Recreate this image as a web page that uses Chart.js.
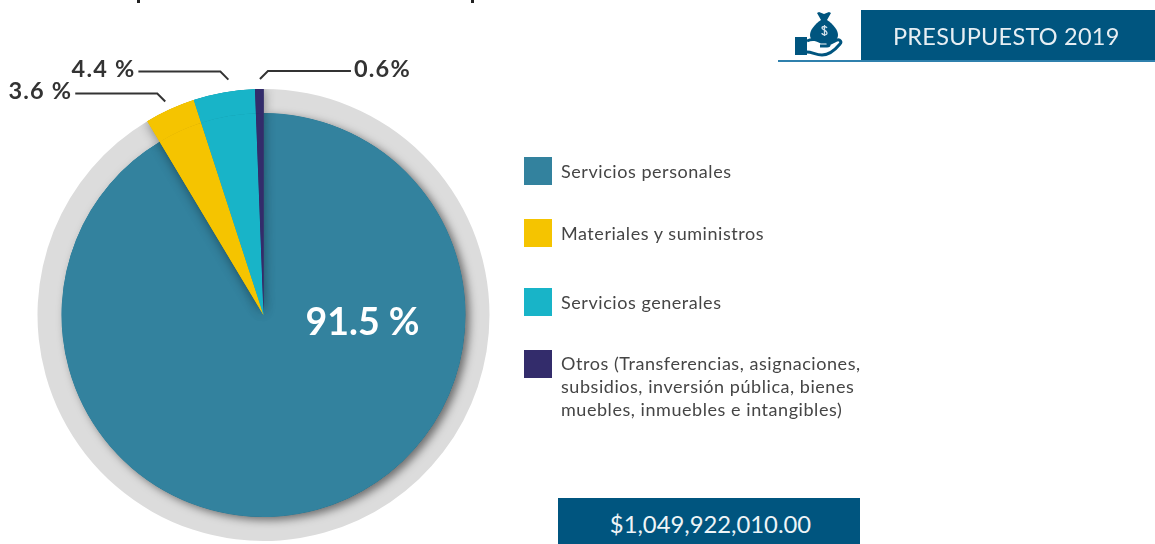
<!DOCTYPE html>
<html lang="es"><head><meta charset="utf-8">
<style>
html,body{margin:0;padding:0;background:#fff;overflow:hidden}
#stage{position:relative;width:1155px;height:544px;overflow:hidden;font-family:Lato,sans-serif;filter:blur(.55px)}
#c{position:absolute;left:0;top:0}
.abs{position:absolute}
.head{left:861px;top:10px;width:294px;height:50px;background:#00557f}
.headline{left:778px;top:60px;width:377px;height:2px;background:#2f80ad}
.htxt{left:893px;top:21px;color:#e6eef3;font-size:23.5px;letter-spacing:.25px;line-height:30px;white-space:nowrap}
.total{left:561px;top:498px;width:299px;height:46px;padding-left:0;color:#eef4f7;font-size:23.8px;line-height:53px;text-align:center}
.totalbg{left:558px;top:498px;width:302px;height:46px;background:#00557f}
.sw{left:524px;width:28px;height:28px}
.lg{left:561px;color:#454545;font-size:18px;line-height:23px;white-space:nowrap;letter-spacing:.55px}
.tick{top:0;width:3px;height:3px;background:#222}
</style></head><body>
<div id="stage">
<canvas id="c" width="1155" height="544"></canvas>
<div class="abs tick" style="left:137px"></div>
<div class="abs tick" style="left:471px"></div>
<div class="abs head"></div><div class="abs headline"></div>
<div class="abs htxt" id="title"></div>
<svg class="abs" style="left:790px;top:12px" width="56" height="48" viewBox="0 0 56 48">
 <path d="M29 0l5 2 5-2 2 1-4 7h-6l-4-7z" fill="#00557f"/>
 <path d="M31 8h6c6 4 11 10 11 15 0 6-6 8-14 8s-14-2-14-8c0-5 5-11 11-15z" fill="#00557f"/>
 <path d="M37 16c-1-2-5-2-5 0s5 2 5 5-5 2-5 0M34.500 13v11" fill="none" stroke="#cfe0ea" stroke-width="1.300"/>
 <rect x="5" y="25" width="12" height="18" fill="#00557f"/>
 <path d="M17 29c6-3 10-1 14 1h6c3 0 3 4 0 4h-7M37 33l10-5c3-1 5 2 3 4-5 6-11 11-18 11-6 0-10-3-15-3" fill="#fff" stroke="#00557f" stroke-width="3"/>
</svg>
<div id="legend"></div>
<div class="abs totalbg"></div>
<div class="abs total" id="total"></div>
</div>
<script src="https://cdn.jsdelivr.net/npm/chart.js@4/dist/chart.umd.min.js"></script>
<script>
const categories = ['Servicios personales','Materiales y suministros','Servicios generales','Otros (Transferencias, asignaciones, subsidios, inversión pública, bienes muebles, inmuebles e intangibles)'];
const values = [91.5, 3.6, 4.4, 0.6];
const valueLabels = ['91.5 %','3.6 %','4.4 %','0.6%'];
const colors = ['#33829e','#f5c400','#18b4c8','#332c6b'];
const ringGray = '#dcdcdc';
const titleText = 'PRESUPUESTO 2019';
const totalText = '$1,049,922,010.00';
const legendLines = [['Servicios personales'],['Materiales y suministros'],['Servicios generales'],['Otros (Transferencias, asignaciones,','subsidios, inversión pública, bienes','muebles, inmuebles e intangibles)']];

document.getElementById('title').textContent = titleText;
document.getElementById('total').textContent = totalText;
const swTops=[157,219,288,350], txtTops=[160,222,291,352];
const lg=document.getElementById('legend');
legendLines.forEach((lines,i)=>{
  const s=document.createElement('div');s.className='abs sw';s.style.top=swTops[i]+'px';s.style.background=colors[i];lg.appendChild(s);
  const t=document.createElement('div');t.className='abs lg';t.style.top=txtTops[i]+'px';t.innerHTML=lines.join('<br>');lg.appendChild(t);
});

const leaders={1:{frac:.52,gap:9,len:82,dir:-1},2:{frac:.4,gap:12,len:82,dir:-1},3:{frac:.4,gap:10,len:83,dir:1}};
const annot={
  id:'annot',
  afterDatasetsDraw(chart){
    const ctx=chart.ctx, outer=chart.getDatasetMeta(0).data, inner=chart.getDatasetMeta(1).data;
    const cx=inner[0].x, cy=inner[0].y, R=outer[0].outerRadius;
    ctx.save();ctx.shadowColor='rgba(0,0,0,.5)';ctx.shadowBlur=8;ctx.shadowOffsetX=4;ctx.shadowOffsetY=3;
    inner[0].draw(ctx);ctx.restore();
    ctx.save();ctx.beginPath();ctx.arc(cx,cy,R,0,Math.PI*2);ctx.clip();
    ctx.shadowColor='rgba(0,0,0,.45)';ctx.shadowBlur=12;
    [1,2,3].forEach(i=>{inner[i].draw(ctx);outer[i].draw(ctx);});
    ctx.restore();
    [1,2,3].forEach(i=>{inner[i].draw(ctx);outer[i].draw(ctx);});
    ctx.save();
    ctx.font='bold 23.5px Lato, sans-serif';ctx.textBaseline='middle';
    ctx.letterSpacing='1.2px';
    Object.keys(leaders).forEach(k=>{
      const i=+k,l=leaders[k],a=outer[i];
      const ang=a.endAngle-(a.endAngle-a.startAngle)*l.frac;
      const ex=cx+(R+l.gap)*Math.cos(ang), ey=cy+(R+l.gap)*Math.sin(ang);
      const ux=ex+l.dir*8, uy=ey-8;
      ctx.strokeStyle='#333';ctx.lineWidth=2;ctx.beginPath();
      ctx.moveTo(ex,ey);ctx.lineTo(ux,uy);ctx.lineTo(ux+l.dir*l.len,uy);ctx.stroke();
      ctx.fillStyle='#333';
      ctx.textAlign=l.dir<0?'right':'left';
      ctx.fillText(valueLabels[i],l.dir<0?ux-l.len-3:ux+l.len+3,uy-2);
    });
    ctx.letterSpacing='0px';
    ctx.fillStyle='#fff';ctx.font='bold 37.5px Lato, sans-serif';ctx.textAlign='center';
    ctx.fillText(valueLabels[0],cx+99,cy+8);
    ctx.restore();
  }
};
new Chart(document.getElementById('c'),{
  type:'doughnut',
  data:{labels:categories,datasets:[
    {data:values,backgroundColor:[ringGray,colors[1],colors[2],colors[3]],borderWidth:0,weight:24},
    {data:values,backgroundColor:colors,borderWidth:0,weight:202}
  ]},
  options:{
    responsive:false,animation:false,cutout:0,
    layout:{padding:{left:37.5,right:665.5,top:89,bottom:3}},
    plugins:{legend:{display:false},tooltip:{enabled:false},title:{display:false}}
  },
  plugins:[annot]
});
</script>
</body></html>
